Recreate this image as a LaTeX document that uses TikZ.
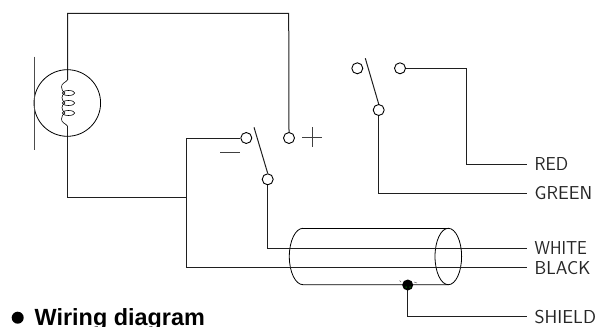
\documentclass[tikz,border=0pt]{standalone}
\usepackage{fontspec}
\newfontfamily\headfont{Liberation Sans}
\definecolor{wire}{gray}{0.12}
\newcommand{\wlabel}[2]{\scalebox{#1}[1.1]{#2}}
\begin{document}
\begin{tikzpicture}[x=1pt,y=-1pt,
  wireline/.style={draw=wire,line width=1pt},
  contact/.style={circle,draw=black,line width=0.9pt,fill=white,minimum size=11pt,inner sep=0pt},
  label/.style={anchor=west,inner xsep=7.5pt,inner ysep=0pt,text=black!85,font=\sffamily\fontsize{17}{17}\selectfont,text height=12.9pt,text depth=0pt},
  thin part/.style={draw=black,line width=0.8pt}]
\useasboundingbox (0,0) rectangle (609,326);
% contacts
\node[contact] (cminus) at (246.3,138) {};
\node[contact] (cplus) at (289,138) {};
\node[contact] (pivotA) at (267.7,179.3) {};
\node[contact] (cleft) at (357.3,68.3) {};
\node[contact] (cright) at (400,68.3) {};
\node[contact] (pivotB) at (378.7,110) {};
% labels
\node[label] (red) at (527,164.5) {\wlabel{1.07}{RED}};
\node[label] (green) at (527,193.5) {\wlabel{1.12}{GREEN}};
\node[label] (white) at (527,248) {\wlabel{1.02}{WHITE}};
\node[label] (black) at (527,267.7) {\wlabel{1.1}{BLACK}};
\node[label] (shield) at (527,316.7) {\wlabel{1.13}{SHIELD}};
% free coordinates
\coordinate (lamptop) at (67.5,80);
\coordinate (lampbot) at (67.5,126);
\coordinate (junction) at (186.5,197);
\coordinate (shieldpt) at (407.7,285);
% cylinder
\draw[thin part] (303,228.3) arc[start angle=-90,end angle=-270,x radius=13.7,y radius=28.2] -- (448.3,284.7);
\draw[thin part] (303,228.3) -- (448.3,228.3);
\draw[thin part] (448.3,256.5) ellipse[x radius=13.3,y radius=28.2];
% wires
\draw[wireline] (lamptop) -- (67.5,13.5) -- (288.7,13.5) -- (cplus.north);
\draw[wireline] (lampbot) -- (67.5,197) -- (junction);
\draw[wireline] (cminus.west) -- (186.5,138) -- (186.5,267.7) -- (black.west);
\draw[wireline] (pivotA.south) -- (267.7,248) -- (white.west);
\draw[wireline] (pivotB.south) -- (378.7,193.5) -- (green.west);
\draw[wireline] (cright.east) -- (466,68.3) -- (466,164.5) -- (red.west);
\draw[wireline] (shieldpt) -- (407.7,316.7) -- (shield.west);
% blades
\draw[wireline] (254,127.3) -- (pivotA.north);
\draw[wireline] (365.3,58.3) -- (pivotB.north);
% plus, minus
\draw[draw=black!75,line width=0.9pt] (302,137.3) -- (322,137.3) (312,127.3) -- (312,147.3);
\draw[draw=black!75,line width=0.9pt] (220,152) -- (240,152);
% lamp
\draw[thin part] (67.3,103) circle[radius=33.3];
\draw[draw=black!70,line width=1pt] (34,56.7) -- (34,149.7);
\draw[thin part,line width=0.6pt] (lamptop) .. controls (65,83) and (61.5,83) .. (61.5,87)
  .. controls (61.5,90) and (63,92) .. (65,93);
\draw[thin part,line width=0.6pt] (65,93) .. controls (61,95) and (61,100) .. (65,103);
\draw[thin part,line width=0.6pt] (65,103) .. controls (61,105) and (61,110) .. (65,113);
\draw[thin part,line width=0.6pt] (65,113) .. controls (63,114) and (61.5,116) .. (61.5,119)
  .. controls (61.5,123) and (65,123) .. (lampbot);
\foreach \yy in {93,103,113} \draw[thin part,line width=0.6pt] (68.5,\yy) ellipse[x radius=6.2,y radius=2.5];
% shield blob
\fill[black] (shieldpt) ellipse[x radius=5.5,y radius=5.5];
\draw[black!60,line width=0.5pt] (401,282) -- (399.5,280.5) (414,282) -- (417,283);
\fill[green!70!black] (405.7,286.5) rectangle (406.7,287.5) (409.7,286.5) rectangle (410.7,287.5);
% caption
\fill[black] (17.7,317.7) circle[radius=6];
\node[anchor=base west,inner sep=0pt,font=\headfont\bfseries\fontsize{23.4}{23.4}\selectfont] (caption) at (34.5,325) {Wiring diagram};
\end{tikzpicture}
\end{document}
